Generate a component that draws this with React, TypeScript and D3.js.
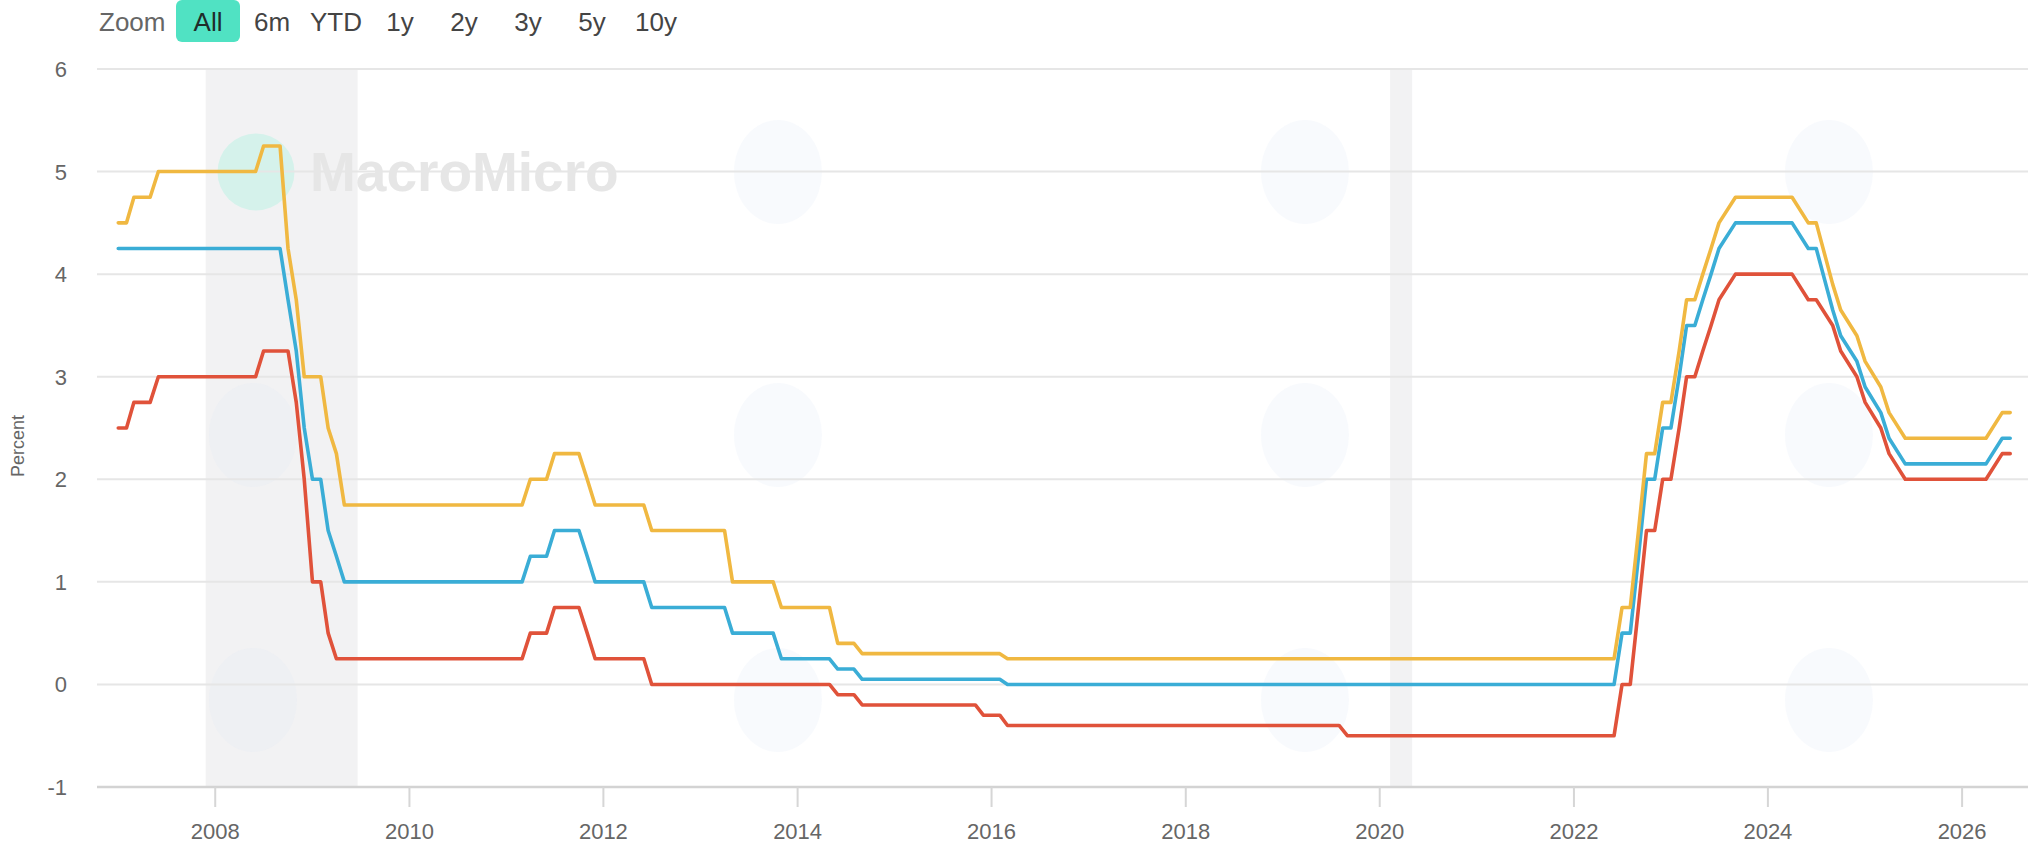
import React from "react";
import * as d3 from "d3";

// ---- Data (monthly vertices) ----
const marginalLending: [string, number][] = [
  ["2007-01", 4.5], ["2007-02", 4.5], ["2007-03", 4.75], ["2007-05", 4.75], ["2007-06", 5.0],
  ["2008-06", 5.0], ["2008-07", 5.25], ["2008-09", 5.25], ["2008-10", 4.25], ["2008-11", 3.75],
  ["2008-12", 3.0], ["2009-02", 3.0], ["2009-03", 2.5], ["2009-04", 2.25], ["2009-05", 1.75],
  ["2011-03", 1.75], ["2011-04", 2.0], ["2011-06", 2.0], ["2011-07", 2.25], ["2011-10", 2.25],
  ["2011-11", 2.0], ["2011-12", 1.75], ["2012-06", 1.75], ["2012-07", 1.5], ["2013-04", 1.5],
  ["2013-05", 1.0], ["2013-10", 1.0], ["2013-11", 0.75], ["2014-05", 0.75], ["2014-06", 0.4],
  ["2014-08", 0.4], ["2014-09", 0.3], ["2016-02", 0.3], ["2016-03", 0.25], ["2022-06", 0.25],
  ["2022-07", 0.75], ["2022-08", 0.75], ["2022-09", 1.5], ["2022-10", 2.25], ["2022-11", 2.25],
  ["2022-12", 2.75], ["2023-01", 2.75], ["2023-02", 3.25], ["2023-03", 3.75], ["2023-04", 3.75],
  ["2023-05", 4.0], ["2023-06", 4.25], ["2023-07", 4.5], ["2023-09", 4.75], ["2024-04", 4.75],
  ["2024-06", 4.5], ["2024-07", 4.5], ["2024-09", 3.9], ["2024-10", 3.65], ["2024-12", 3.4],
  ["2025-01", 3.15], ["2025-03", 2.9], ["2025-04", 2.65], ["2025-06", 2.4], ["2026-04", 2.4],
  ["2026-06", 2.65], ["2026-07", 2.65],
];

const mainRefinancing: [string, number][] = [
  ["2007-01", 4.25], ["2008-09", 4.25], ["2008-10", 3.75], ["2008-11", 3.25], ["2008-12", 2.5],
  ["2009-01", 2.0], ["2009-02", 2.0], ["2009-03", 1.5], ["2009-04", 1.25], ["2009-05", 1.0],
  ["2011-03", 1.0], ["2011-04", 1.25], ["2011-06", 1.25], ["2011-07", 1.5], ["2011-10", 1.5],
  ["2011-11", 1.25], ["2011-12", 1.0], ["2012-06", 1.0], ["2012-07", 0.75], ["2013-04", 0.75],
  ["2013-05", 0.5], ["2013-10", 0.5], ["2013-11", 0.25], ["2014-05", 0.25], ["2014-06", 0.15],
  ["2014-08", 0.15], ["2014-09", 0.05], ["2016-02", 0.05], ["2016-03", 0.0], ["2022-06", 0.0],
  ["2022-07", 0.5], ["2022-08", 0.5], ["2022-09", 1.25], ["2022-10", 2.0], ["2022-11", 2.0],
  ["2022-12", 2.5], ["2023-01", 2.5], ["2023-02", 3.0], ["2023-03", 3.5], ["2023-04", 3.5],
  ["2023-05", 3.75], ["2023-06", 4.0], ["2023-07", 4.25], ["2023-09", 4.5], ["2024-04", 4.5],
  ["2024-06", 4.25], ["2024-07", 4.25], ["2024-09", 3.65], ["2024-10", 3.4], ["2024-12", 3.15],
  ["2025-01", 2.9], ["2025-03", 2.65], ["2025-04", 2.4], ["2025-06", 2.15], ["2026-04", 2.15],
  ["2026-06", 2.4], ["2026-07", 2.4],
];

const depositFacility: [string, number][] = [
  ["2007-01", 2.5], ["2007-02", 2.5], ["2007-03", 2.75], ["2007-05", 2.75], ["2007-06", 3.0],
  ["2008-06", 3.0], ["2008-07", 3.25], ["2008-10", 3.25], ["2008-11", 2.75], ["2008-12", 2.0],
  ["2009-01", 1.0], ["2009-02", 1.0], ["2009-03", 0.5], ["2009-04", 0.25], ["2011-03", 0.25],
  ["2011-04", 0.5], ["2011-06", 0.5], ["2011-07", 0.75], ["2011-10", 0.75], ["2011-11", 0.5],
  ["2011-12", 0.25], ["2012-06", 0.25], ["2012-07", 0.0], ["2014-05", 0.0], ["2014-06", -0.1],
  ["2014-08", -0.1], ["2014-09", -0.2], ["2015-11", -0.2], ["2015-12", -0.3], ["2016-02", -0.3],
  ["2016-03", -0.4], ["2019-08", -0.4], ["2019-09", -0.5], ["2022-06", -0.5], ["2022-07", 0.0],
  ["2022-08", 0.0], ["2022-09", 0.75], ["2022-10", 1.5], ["2022-11", 1.5], ["2022-12", 2.0],
  ["2023-01", 2.0], ["2023-02", 2.5], ["2023-03", 3.0], ["2023-04", 3.0], ["2023-05", 3.25],
  ["2023-06", 3.5], ["2023-07", 3.75], ["2023-09", 4.0], ["2024-04", 4.0], ["2024-06", 3.75],
  ["2024-07", 3.75], ["2024-09", 3.5], ["2024-10", 3.25], ["2024-12", 3.0], ["2025-01", 2.75],
  ["2025-03", 2.5], ["2025-04", 2.25], ["2025-06", 2.0], ["2026-04", 2.0], ["2026-06", 2.25],
  ["2026-07", 2.25],
];

const recessions: [string, string][] = [
  ["2007-11-26", "2009-06-20"],
  ["2020-02-09", "2020-05-02"],
];

const yTicks = [-1, 0, 1, 2, 3, 4, 5, 6];
const xTickYears = [2008, 2010, 2012, 2014, 2016, 2018, 2020, 2022, 2024, 2026];
const rangeButtons = ["All", "6m", "YTD", "1y", "2y", "3y", "5y", "10y"];
const selectedButton = "All";
const yAxisTitle = "Percent";

// ---- Layout ----
const W = 2034;
const H = 866;
const left = 97;
const right = 2028;
const top = 69;
const bottom = 787;
const FONT = "'Liberation Sans', Arial, Helvetica, sans-serif";

const parseMonth = (s: string) => {
  const [y, m] = s.split("-").map(Number);
  return new Date(y, m - 1, 1);
};
const parseDay = (s: string) => {
  const [y, m, d] = s.split("-").map(Number);
  return new Date(y, m - 1, d);
};

const x = d3
  .scaleTime()
  .domain([new Date(2006, 9, 13), new Date(2026, 8, 6)])
  .range([left, right]);
const y = d3.scaleLinear().domain([-1, 6]).range([bottom, top]);

const line = d3
  .line<[string, number]>()
  .x((d) => x(parseMonth(d[0])))
  .y((d) => y(d[1]))
  .curve(d3.curveLinear);

const series = [
  { name: "Main refinancing operations", data: mainRefinancing, color: "#3aadd6" },
  { name: "Deposit facility", data: depositFacility, color: "#e0523a" },
  { name: "Marginal lending facility", data: marginalLending, color: "#f0b841" },
];

const watermarkSpots: [number, number][] = [
  [778, 172], [1305, 172], [1829, 172],
  [253, 435], [778, 435], [1305, 435], [1829, 435],
  [253, 700], [778, 700], [1305, 700], [1829, 700],
];

export default function App() {
  return (
    <svg
      width={W}
      height={H}
      viewBox={`0 0 ${W} ${H}`}
      style={{ position: "absolute", left: 0, top: 0, background: "#fff" }}
      fontFamily={FONT}
    >
      <rect x={0} y={0} width={W} height={H} fill="#ffffff" />

      {/* range selector */}
      <text x={99} y={31} fontSize={26} fill="#666666">Zoom</text>
      {rangeButtons.map((b, i) => {
        const cx = 208 + i * 64;
        const sel = b === selectedButton;
        return (
          <g key={b}>
            {sel && <rect x={cx - 32} y={0} width={64} height={42} rx={6} fill="#50e2c3" />}
            <text x={cx} y={31} fontSize={26} textAnchor="middle" fill={sel ? "#1f2d2a" : "#444444"}>
              {b}
            </text>
          </g>
        );
      })}

      {/* recession bands */}
      {recessions.map(([a, b]) => (
        <rect
          key={a}
          x={x(parseDay(a))}
          y={top}
          width={x(parseDay(b)) - x(parseDay(a))}
          height={bottom - top}
          fill="#f2f2f3"
        />
      ))}

      {/* faint watermarks */}
      {watermarkSpots.map(([cx, cy], i) => (
        <ellipse key={i} cx={cx} cy={cy} rx={44} ry={52} fill="#dfe8f6" opacity={0.22} />
      ))}
      <circle cx={256} cy={172} r={38.5} fill="#d5f2eb" />
      <text x={310} y={191} fontSize={55} fontWeight="bold" fill="#e6e6e6">MacroMicro</text>

      {/* gridlines */}
      {yTicks.filter((t) => t !== -1).map((t) => (
        <line key={t} x1={left} x2={right} y1={y(t)} y2={y(t)} stroke="#e6e6e6" strokeWidth={2} />
      ))}

      {/* x axis */}
      <line x1={left} x2={right} y1={bottom} y2={bottom} stroke="#d3d3d3" strokeWidth={2.5} />
      {xTickYears.map((yr) => {
        const xx = x(new Date(yr, 0, 1));
        return (
          <g key={yr}>
            <line x1={xx} x2={xx} y1={bottom} y2={bottom + 20} stroke="#d6d6d6" strokeWidth={2} />
            <text x={xx} y={839} fontSize={22} textAnchor="middle" fill="#666666">
              {yr}
            </text>
          </g>
        );
      })}

      {/* y axis labels */}
      {yTicks.map((t) => (
        <text key={t} x={67} y={y(t) + 8} fontSize={22} textAnchor="end" fill="#666666">
          {t}
        </text>
      ))}
      <text
        x={0}
        y={0}
        fontSize={18}
        fill="#666666"
        textAnchor="middle"
        transform={`translate(24, 446) rotate(-90)`}
      >
        {yAxisTitle}
      </text>

      {/* series */}
      {series.map((s) => (
        <path
          key={s.name}
          d={line(s.data) || ""}
          fill="none"
          stroke={s.color}
          strokeWidth={3.6}
          strokeLinejoin="round"
          strokeLinecap="round"
        />
      ))}
    </svg>
  );
}
